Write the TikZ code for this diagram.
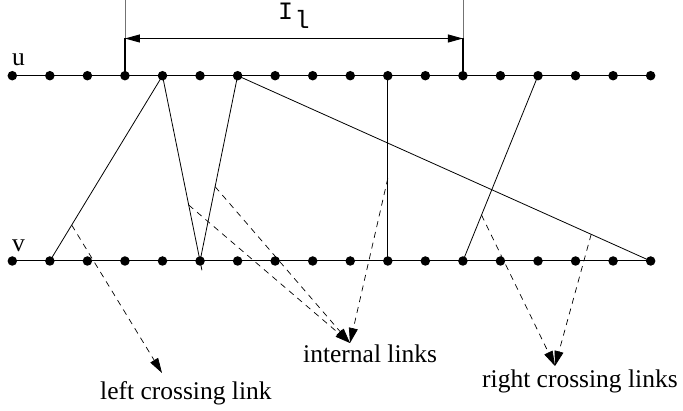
\documentclass[tikz,border=0pt]{standalone}
\usepackage{fontspec}
\setmainfont{Liberation Serif}
\newfontfamily\monofont{Liberation Mono}
\usetikzlibrary{arrows.meta,calc}
\begin{document}
\begin{tikzpicture}[x=1pt,y=-1pt,
  dot/.style={circle,fill=black,inner sep=0pt,minimum size=9.5pt},
  axisline/.style={line width=1pt,black},
  link/.style={line width=0.8pt,black},
  pointer/.style={dash pattern=on 6pt off 5pt,line width=0.7pt,-{Triangle[length=15pt,width=9pt]}},
  lbl/.style={font=\fontsize{25.5}{28}\selectfont,inner sep=0pt,anchor=base west},
  mono/.style={font=\monofont\fontsize{25}{28}\selectfont,inner sep=0pt,anchor=base}
]
\useasboundingbox (0,0) rectangle (683,411);
\foreach \i in {0,...,17} {
  \node[dot] (u\i) at ({12.3+37.55*\i},75.7) {};
  \node[dot] (v\i) at ({12.3+37.55*\i},261) {};
}
\draw[axisline] (u0.center) -- (u17.center);
\draw[axisline] (v0.center) -- (v17.center);
% labels u, v
\node[lbl] (ulab) at (12,66) {u};
\node[lbl] (vlab) at (12,252) {v};
% interval bracket
\coordinate (ta) at ($(u3.center)+(0,-75.7)$);
\coordinate (tb) at ($(u12.center)+(0,-75.7)$);
\coordinate (aa) at ($(u3.center)+(0,-37.2)$);
\coordinate (ab) at ($(u12.center)+(0,-37.2)$);
\draw[line width=0.6pt,black!55] (ta) -- (aa);
\draw[line width=0.6pt,black!55] (tb) -- (ab);
\draw[line width=1.5pt] (aa) -- (u3.center);
\draw[line width=1.5pt] (ab) -- (u12.center);
\draw[line width=0.9pt,{Triangle[length=15pt,width=8pt]}-{Triangle[length=15pt,width=8pt]}] (aa) -- (ab);
\node[mono] (Ilab) at (285.5,19.5) {I};
\node[mono] (Isub) at (302,28.5) {l};
% solid links
\draw[link] (u4.center) -- (v1.center);
\draw[link] (u4.center) -- ($(u4.center)!1.05!(v5.center)$);
\draw[link] (u6.center) -- (v5.center);
\draw[link] (u6.center) -- (v17.center);
\draw[link] (u10.center) -- (v10.center);
\draw[link] (u14.center) -- (v12.center);
% start points of pointers
\coordinate (s1) at ($(u4.center)!0.806!(v1.center)$);
\coordinate (s2) at ($(u4.center)!0.698!(v5.center)$);
\coordinate (s3) at ($(u6.center)!0.599!(v5.center)$);
\coordinate (s4) at ($(u10.center)!0.554!(v10.center)$);
\coordinate (s5) at ($(u14.center)!0.752!(v12.center)$);
\coordinate (s6) at ($(u6.center)!0.856!(v17.center)$);
% tips
\coordinate (tL) at (162,373);
\coordinate (tI) at (350,343);
\coordinate (tR) at (555,366);
\draw[pointer] (s1) -- (tL);
\draw[pointer] (s2) -- (tI);
\draw[pointer] (s3) -- (tI);
\draw[pointer] (s4) -- (tI);
\draw[pointer] (s5) -- (tR);
\draw[pointer] (s6) -- (tR);
% text labels
\node[lbl] (left) at (100,400) {left crossing link};
\node[lbl] (internal) at (303,363) {internal links};
\node[lbl] (right) at (482,388) {right crossing links};
\end{tikzpicture}
\end{document}
